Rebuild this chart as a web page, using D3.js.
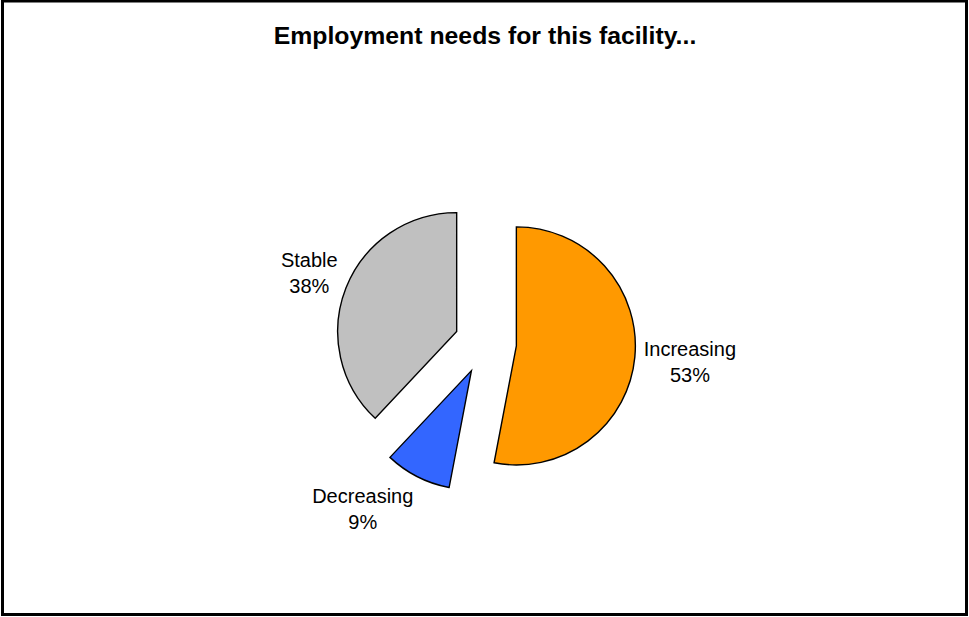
<!DOCTYPE html>
<html>
<head>
<meta charset="utf-8">
<script src="https://cdn.jsdelivr.net/npm/d3@7"></script>
<style>
  html, body { margin: 0; padding: 0; background: #fff; }
  svg { display: block; }
</style>
</head>
<body>
<svg id="chart" width="969" height="617"></svg>
<script>
// Share of facilities by expected change in employment
const categories = ["Increasing", "Decreasing", "Stable"];
const shares = [53, 9, 38];
const sliceColors = ["#FF9900", "#3366FF", "#C0C0C0"];
const chartTitle = "Employment needs for this facility...";

const W = 969, H = 617;
const svg = d3.select("#chart");

// outer frame
svg.append("rect")
  .attr("x", 2.5).attr("y", 1)
  .attr("width", W - 5).attr("height", H - 3.5)
  .attr("fill", "#fff")
  .attr("stroke", "#000")
  .attr("stroke-width", 3);

// title
svg.append("text")
  .attr("x", 485).attr("y", 44)
  .attr("text-anchor", "middle")
  .attr("font-family", "'Liberation Sans', Arial, sans-serif")
  .attr("font-weight", "bold")
  .attr("font-size", 24.8)
  .attr("fill", "#000")
  .text(chartTitle);

// pie geometry
const cx = 485.5, cy = 343;
const radius = 119;
const explode = 31;
const labelGap = 9;

const pie = d3.pie().sort(null).startAngle(0).endAngle(2 * Math.PI);
const arcs = pie(shares);
const arc = d3.arc().innerRadius(0).outerRadius(radius);

const g = svg.append("g").attr("transform", `translate(${cx},${cy})`);

function dirOf(d) {
  const mid = (d.startAngle + d.endAngle) / 2;
  return [Math.sin(mid), -Math.cos(mid)];
}

g.selectAll("path.slice")
  .data(arcs)
  .join("path")
  .attr("class", "slice")
  .attr("transform", d => {
    const [dx, dy] = dirOf(d);
    return `translate(${dx * explode},${dy * explode})`;
  })
  .attr("d", arc)
  .attr("fill", (d, i) => sliceColors[i])
  .attr("stroke", "#000")
  .attr("stroke-width", 1.4)
  .attr("stroke-linejoin", "miter");

// data labels: category name over percentage
const fontSize = 20;
const lineStep = 26;
const ascent = 0.905 * fontSize;
const descent = 0.212 * fontSize;
const halfH = (ascent + lineStep + descent) / 2;

arcs.forEach((d, i) => {
  const [dx, dy] = dirOf(d);
  const t = g.append("text")
    .attr("font-family", "'Liberation Sans', Arial, sans-serif")
    .attr("font-size", fontSize)
    .attr("fill", "#000")
    .attr("text-anchor", "middle");
  const l1 = t.append("tspan").attr("x", 0).text(categories[i]);
  const l2 = t.append("tspan").attr("x", 0).text(d3.format("d")(shares[i]) + "%");

  const halfW = Math.max(l1.node().getComputedTextLength(), l2.node().getComputedTextLength()) / 2;
  const R = radius + explode + labelGap;
  const px = dx * R, py = dy * R;
  let bx, by;
  if (Math.abs(dx) > 0.4 && Math.abs(dy) > 0.4) {
    // diagonal: box corner sits on the anchor point
    bx = px + Math.sign(dx) * halfW;
    by = py + Math.sign(dy) * halfH;
  } else {
    // push the box outward along the bisector until its edge clears the anchor
    const ext = Math.min(halfW / Math.max(Math.abs(dx), 1e-6), halfH / Math.max(Math.abs(dy), 1e-6));
    bx = px + dx * ext;
    by = py + dy * ext;
  }
  const base1 = by - halfH + ascent;
  l1.attr("x", bx).attr("y", base1);
  l2.attr("x", bx).attr("y", base1 + lineStep);
});
</script>
</body>
</html>
